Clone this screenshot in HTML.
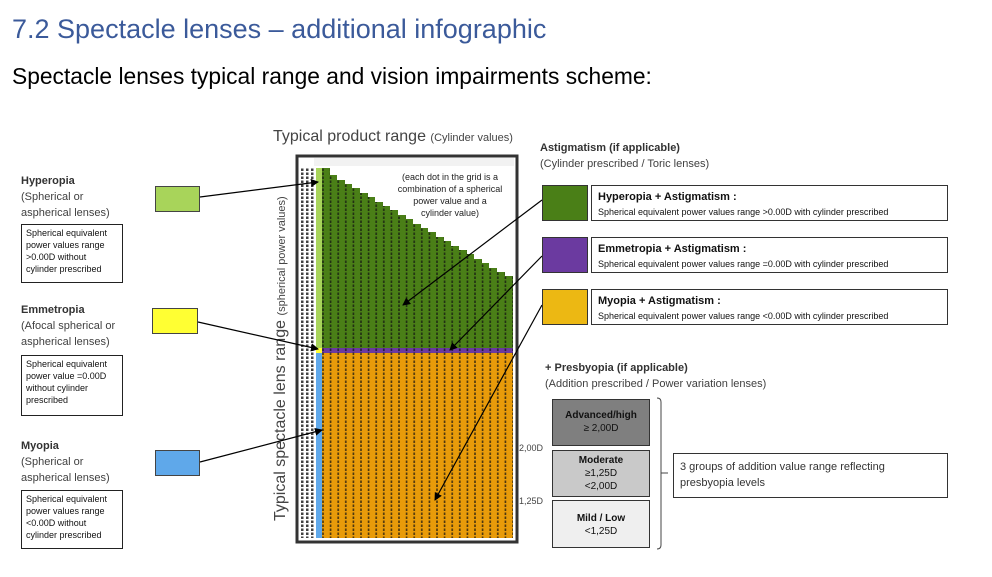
<!DOCTYPE html>
<html><head><meta charset="utf-8"><style>
body{margin:0;width:992px;height:577px;background:#fff;font-family:"Liberation Sans",sans-serif;position:relative;overflow:hidden}
.a{position:absolute}
.s{font-size:11px;color:#404040;line-height:16px}
.b{font-weight:bold;color:#333}
.tb{border:1px solid #222;background:#fff;font-size:9px;line-height:12px;padding:2px 4px;box-sizing:border-box;color:#111}
.rb{border:1px solid #333;box-sizing:border-box;padding:3px 6px;font-size:9px;line-height:13px;color:#111}
.rb b{font-size:11px;display:block;line-height:17px}
.pb{border:1px solid #333;box-sizing:border-box;text-align:center;font-size:10px;line-height:13px;color:#111}
</style></head><body>
<div class="a" style="left:12px;top:14px;font-size:27px;color:#3b5a9a">7.2 Spectacle lenses – additional infographic</div>
<div class="a" style="left:12px;top:63px;font-size:22.8px;color:#000">Spectacle lenses typical range and vision impairments scheme:</div>

<div class="a s" style="left:21px;top:173px"><span class="b">Hyperopia</span><br>(Spherical or<br>aspherical lenses)</div>
<div class="a tb" style="left:21px;top:224px;width:102px;height:59px">Spherical equivalent power values range &gt;0.00D without cylinder prescribed</div>
<div class="a s" style="left:21px;top:302px"><span class="b">Emmetropia</span><br>(Afocal spherical or<br>aspherical lenses)</div>
<div class="a tb" style="left:21px;top:355px;width:102px;height:61px">Spherical equivalent power value =0.00D without cylinder prescribed</div>
<div class="a s" style="left:21px;top:438px"><span class="b">Myopia</span><br>(Spherical or<br>aspherical lenses)</div>
<div class="a tb" style="left:21px;top:490px;width:102px;height:59px">Spherical equivalent power values range &lt;0.00D without cylinder prescribed</div>

<div class="a" style="left:155px;top:186px;width:45px;height:26px;border:1px solid #444;box-sizing:border-box;background:#a8d45a"></div>
<div class="a" style="left:152px;top:308px;width:46px;height:26px;background:#ffff33;border:1px solid #444;box-sizing:border-box"></div>
<div class="a" style="left:155px;top:450px;width:45px;height:26px;background:#5fa8ea;border:1px solid #444;box-sizing:border-box"></div>

<div class="a" style="left:273px;top:128px;font-size:16px;color:#444">Typical product range <span style="font-size:11px">(Cylinder values)</span></div>
<div class="a" style="left:271px;top:521px;transform-origin:0 0;transform:rotate(-90deg);font-size:16px;line-height:19px;color:#444;white-space:nowrap">Typical spectacle lens range <span style="font-size:11px">(spherical power values)</span></div>

<svg class="a" style="left:0;top:0" width="992" height="577">
<defs>
<pattern id="d" width="7.6" height="4" patternUnits="userSpaceOnUse"><rect x="3" y="0.5" width="1.6" height="2.5" fill="#111" opacity=".75"/></pattern>
<pattern id="l" width="5" height="4" patternUnits="userSpaceOnUse"><rect x="1" y="0.5" width="2.5" height="2.5" fill="#111" opacity=".8"/></pattern>
<marker id="ar" markerWidth="8" markerHeight="8" refX="7" refY="4" orient="auto" markerUnits="userSpaceOnUse"><path d="M0,0 L8,4 L0,8z" fill="#000"/></marker>
</defs>
<rect x="297" y="156" width="220" height="386" fill="#fff" stroke="#333" stroke-width="3"/>
<rect x="314" y="158" width="200" height="8" fill="#f2f2f2"/>
<rect x="301" y="168" width="14" height="370" fill="url(#l)"/>
<rect x="316" y="168" width="6" height="180" fill="#a8d45a"/>
<rect x="316" y="348" width="6" height="5" fill="#ffff33"/>
<rect x="316" y="353" width="6" height="185" fill="#5fa8ea"/>
<rect x="322" y="168" width="191" height="180" fill="#4a7f17"/>
<rect x="322" y="348" width="191" height="5" fill="#6b3aa0"/>
<rect x="322" y="353" width="191" height="185" fill="#e89b0a"/>
<rect x="322" y="168" width="191" height="370" fill="url(#d)"/>
<polygon fill="#fff" points="330,168 513,168 513,276 505,276 505,272 497,272 497,268 489,268 489,263 482,263 482,259 474,259 474,254 467,254 467,250 459,250 459,246 451,246 451,241 444,241 444,237 436,237 436,232 428,232 428,228 421,228 421,224 413,224 413,219 406,219 406,215 398,215 398,210 390,210 390,206 383,206 383,202 375,202 375,197 368,197 368,193 360,193 360,188 352,188 352,184 345,184 345,180 337,180 337,175 330,175"/>
<text x="450" y="180" font-size="9" fill="#222" text-anchor="middle" font-family="Liberation Sans">(each dot in the grid is a</text>
<text x="450" y="192" font-size="9" fill="#222" text-anchor="middle" font-family="Liberation Sans">combination of a spherical</text>
<text x="450" y="204" font-size="9" fill="#222" text-anchor="middle" font-family="Liberation Sans">power value and a</text>
<text x="450" y="216" font-size="9" fill="#222" text-anchor="middle" font-family="Liberation Sans">cylinder value)</text>
<g stroke="#000" stroke-width="1.2" marker-end="url(#ar)">
<line x1="200" y1="197" x2="318" y2="182"/>
<line x1="198" y1="322" x2="318" y2="349"/>
<line x1="200" y1="462" x2="322" y2="430"/>
<line x1="542" y1="200" x2="403" y2="305"/>
<line x1="542" y1="256" x2="450" y2="350"/>
<line x1="542" y1="305" x2="435" y2="500"/>
</g>
<path d="M657,398 Q661,398 661,402 L661,545 Q661,549 657,549 M661,473 L668,473" stroke="#444" fill="none"/>
</svg>

<div class="a s" style="left:540px;top:140px"><span class="b">Astigmatism (if applicable)</span><br>(Cylinder prescribed / Toric lenses)</div>
<div class="a" style="left:542px;top:185px;width:46px;height:36px;background:#4a7f17;border:1px solid #333;box-sizing:border-box"></div>
<div class="a rb" style="left:591px;top:185px;width:357px;height:36px"><b>Hyperopia + Astigmatism :</b>Spherical equivalent power values range &gt;0.00D with cylinder prescribed</div>
<div class="a" style="left:542px;top:237px;width:46px;height:36px;background:#6b3aa0;border:1px solid #333;box-sizing:border-box"></div>
<div class="a rb" style="left:591px;top:237px;width:357px;height:36px"><b>Emmetropia + Astigmatism :</b>Spherical equivalent power values range =0.00D with cylinder prescribed</div>
<div class="a" style="left:542px;top:289px;width:46px;height:36px;background:#ecb813;border:1px solid #333;box-sizing:border-box"></div>
<div class="a rb" style="left:591px;top:289px;width:357px;height:36px"><b>Myopia + Astigmatism :</b>Spherical equivalent power values range &lt;0.00D with cylinder prescribed</div>

<div class="a s" style="left:545px;top:360px"><span class="b">+ Presbyopia (if applicable)</span><br>(Addition prescribed / Power variation lenses)</div>
<div class="a pb" style="left:552px;top:399px;width:98px;height:47px;background:#7f7f7f;padding-top:9px"><b>Advanced/high</b><br>≥ 2,00D</div>
<div class="a pb" style="left:552px;top:450px;width:98px;height:47px;background:#c9c9c9;padding-top:3px"><b>Moderate</b><br>≥1,25D<br>&lt;2,00D</div>
<div class="a pb" style="left:552px;top:500px;width:98px;height:48px;background:#efefef;padding-top:11px"><b>Mild / Low</b><br>&lt;1,25D</div>
<div class="a" style="left:519px;top:443px;font-size:9px;color:#444">2,00D</div>
<div class="a" style="left:519px;top:496px;font-size:9px;color:#444">1,25D</div>
<div class="a rb" style="left:673px;top:453px;width:275px;height:45px;font-size:11px;line-height:16px;padding:5px 6px;color:#333">3 groups of addition value range reflecting presbyopia levels</div>
</body></html>
